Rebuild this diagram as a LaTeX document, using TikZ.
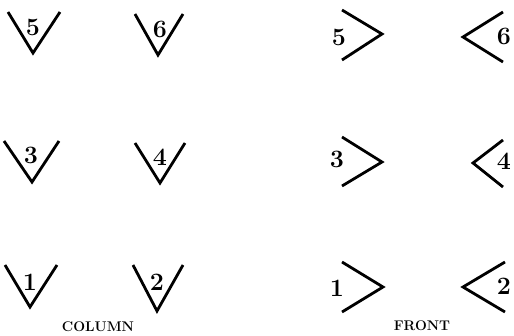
\documentclass[tikz,border=0pt]{standalone}
\usepackage{tikz}
\usetikzlibrary{arrows,shapes}
\tikzstyle{chev}=[draw=black,line width=2.8pt,line join=miter]
\tikzstyle{num}=[inner sep=0pt,font=\fontsize{25}{25}\selectfont\bfseries]
\tikzstyle{caption}=[inner sep=0pt,font=\fontsize{14}{14}\selectfont\bfseries]

\begin{document}
\begin{tikzpicture}[x=1pt,y=-1pt]
\useasboundingbox (0,0) rectangle (514,335);
% column
\node[num] (n5) at (33,27) {5};
\node[num] (n6) at (160,29) {6};
\node[num] (n3) at (31,155) {3};
\node[num] (n4) at (160,157) {4};
\node[num] (n1) at (30,282) {1};
\node[num] (n2) at (157,282) {2};
\draw[chev] (8,12) -- (33,53) -- (60,12);
\draw[chev] (135,14) -- (158,55) -- (183,14);
\draw[chev] (4,141) -- (32,182) -- (59,141);
\draw[chev] (135,143) -- (160,183) -- (185,143);
\draw[chev] (5,265) -- (30,307) -- (57,265);
\draw[chev] (133,265) -- (157,311) -- (183,265);
\node[caption] (col) at (98,327) {COLUMN};
% front
\node[num] (f5) at (339,37) {5};
\node[num] (f6) at (504,36) {6};
\node[num] (f3) at (337,159) {3};
\node[num] (f4) at (504,161) {4};
\node[num] (f1) at (337,288) {1};
\node[num] (f2) at (504,286) {2};
\draw[chev] (342,10) -- (382,34) -- (342,60);
\draw[chev] (503,12) -- (463,37) -- (503,62);
\draw[chev] (342,137) -- (382,162) -- (342,186);
\draw[chev] (503,140) -- (473,163) -- (503,187);
\draw[chev] (342,262) -- (383,287) -- (342,312);
\draw[chev] (505,262) -- (463,287) -- (505,312);
\node[caption] (front) at (422,326) {FRONT};
\end{tikzpicture}
\end{document}
